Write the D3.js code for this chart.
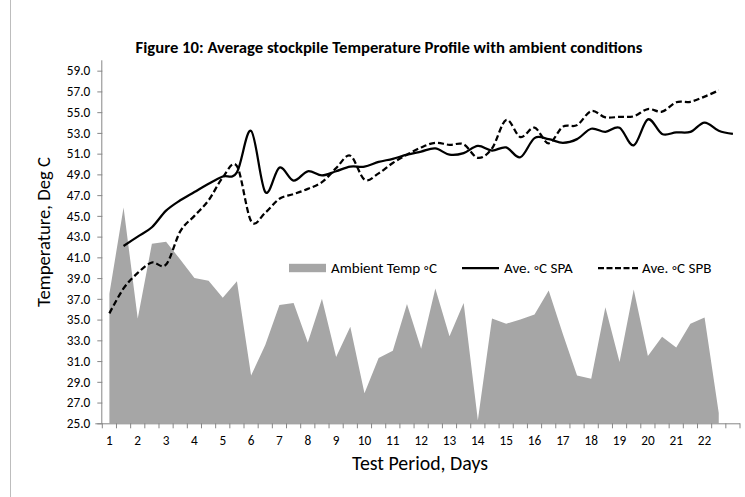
<!DOCTYPE html>
<html>
<head>
<meta charset="utf-8">
<script src="https://cdn.jsdelivr.net/npm/d3@7"></script>
<style>
  html, body { margin: 0; padding: 0; background: #fff; }
  svg { display: block; }
  text { font-family: Carlito, Calibri, Lato, "Open Sans", sans-serif; fill: #000; }
</style>
</head>
<body>
<svg id="chart" width="745" height="497"></svg>
<script>
// ---- data ----
const xLabels = ["1","","2","","3","","4","","5","","6","","7","","8","","9","","10","","11","","12","","13","","14","","15","","16","","17","","18","","19","","20","","21","","22","",""];
const ambientTemp = [37.5, 45.8, 35.1, 42.3, 42.5, 40.8, 39.0, 38.75, 37.1, 38.7, 29.6, 32.55, 36.4, 36.6, 32.8, 37.0, 31.4, 34.3, 27.9, 31.3, 32.0, 36.5, 32.2, 38.0, 33.4, 36.6, 25.3, 35.1, 34.6, 35.0, 35.5, 37.8, 33.6, 29.6, 29.3, 36.2, 30.9, 37.9, 31.5, 33.35, 32.3, 34.6, 35.2, 26.0];
const spa = [null, 42.1, 43.0, 43.9, 45.5, 46.5, 47.3, 48.1, 48.8, 49.2, 53.2, 47.3, 49.65, 48.4, 49.3, 48.9, 49.3, 49.75, 49.75, 50.2, 50.5, 50.9, 51.2, 51.5, 50.9, 51.05, 51.75, 51.3, 51.6, 50.65, 52.5, 52.4, 52.05, 52.4, 53.4, 53.1, 53.5, 51.8, 54.3, 52.9, 53.05, 53.1, 54.0, 53.2, 52.9];
const spb = [35.6, 38.0, 39.5, 40.5, 40.3, 43.5, 45.0, 46.5, 48.7, 49.8, 44.5, 45.3, 46.65, 47.1, 47.6, 48.25, 49.6, 50.8, 48.5, 49.1, 50.1, 50.9, 51.6, 52.05, 51.85, 51.9, 50.6, 51.5, 54.25, 52.6, 53.5, 52.0, 53.6, 53.75, 55.1, 54.5, 54.55, 54.6, 55.3, 55.05, 55.95, 56.0, 56.5, 57.1, null];
const yTicks = [25, 27, 29, 31, 33, 35, 37, 39, 41, 43, 45, 47, 49, 51, 53, 55, 57, 59];
const legendNames = ["Ambient Temp \u25E6C", "Ave. \u25E6C SPA", "Ave. \u25E6C SPB"];
const titleText = "Figure 10: Average stockpile Temperature Profile with ambient conditions";

// ---- layout ----
const svg = d3.select("#chart");
const plot = { left: 102.3, right: 740, top: 60.3, bottom: 423.3 };
const axisColor = "#868686";

const x = d3.scaleBand().domain(d3.range(xLabels.length)).range([plot.left, plot.right]).paddingInner(0).paddingOuter(0);
const cx = i => x(i) + x.bandwidth() / 2;
const y = d3.scaleLinear().domain([25, 60]).range([plot.bottom, plot.top]);

function fit(sel, target) {
  const node = sel.node();
  const fs = parseFloat(sel.attr("font-size"));
  const w = node.getComputedTextLength();
  if (w > 0) sel.attr("font-size", (fs * target / w).toFixed(2));
  return parseFloat(sel.attr("font-size"));
}

// chart border (left edge visible)
svg.append("line").attr("x1", 10.5).attr("x2", 10.5).attr("y1", 0).attr("y2", 497)
  .attr("stroke", "#bdbdbd").attr("stroke-width", 1);

// title
const title = svg.append("text").attr("x", 389).attr("y", 52.5).attr("text-anchor", "middle")
  .attr("font-weight", "bold").attr("font-size", 14).text(titleText);
fit(title, 507);

// ambient area
const area = d3.area()
  .x((d, i) => cx(i))
  .y0(y(25))
  .y1(d => y(d))
  .curve(d3.curveLinear);
svg.append("path").datum(ambientTemp).attr("d", area).attr("fill", "#a6a6a6");

// lines
const line = d3.line()
  .defined(d => d != null)
  .x((d, i) => cx(i))
  .y(d => y(d))
  .curve(d3.curveCardinal);
svg.append("path").datum(spa).attr("d", line).attr("fill", "none")
  .attr("stroke", "#000").attr("stroke-width", 2.25).attr("stroke-linejoin", "round");
svg.append("path").datum(spb).attr("d", line).attr("fill", "none")
  .attr("stroke", "#000").attr("stroke-width", 2.25).attr("stroke-dasharray", "6,3");

// y axis
const yAxis = d3.axisLeft(y).tickValues(yTicks).tickSize(5).tickPadding(7).tickFormat(d3.format(".1f"));
const gy = svg.append("g").attr("transform", `translate(${plot.left},0)`).call(yAxis);
gy.select(".domain").attr("stroke", axisColor).attr("d", `M-0.5,${plot.top}V${plot.bottom}`);
gy.selectAll(".tick line").attr("stroke", axisColor);
gy.selectAll(".tick text").attr("font-size", 13).attr("font-family", null).attr("fill", "#000");
const sample = gy.selectAll(".tick text").filter(d => d === 59);
const tickFs = fit(sample, 23.5);
gy.selectAll(".tick text").attr("font-size", tickFs);

// x axis
const xAxis = d3.axisBottom(x).tickSize(0).tickPadding(12).tickFormat(i => xLabels[i]);
const gx = svg.append("g").attr("transform", `translate(0,${plot.bottom})`).call(xAxis);
gx.select(".domain").attr("stroke", axisColor).attr("d", `M${plot.left - 7},0.5H${plot.right}`);
gx.selectAll(".tick text").attr("font-size", tickFs).attr("font-family", null).attr("fill", "#000");
// tick marks at category boundaries
const bounds = d3.range(xLabels.length + 1).map(i => i === xLabels.length ? plot.right : x(i));
gx.selectAll(".bound").data(bounds).enter().append("line").attr("class", "bound")
  .attr("x1", d => d).attr("x2", d => d).attr("y1", 0).attr("y2", 5).attr("stroke", axisColor);

// axis titles
const yt = svg.append("text").attr("transform", "translate(50,232) rotate(-90)")
  .attr("text-anchor", "middle").attr("font-size", 15).text("Temperature, Deg C");
fit(yt, 150);
const xt = svg.append("text").attr("x", 420).attr("y", 470).attr("text-anchor", "middle")
  .attr("font-size", 15).text("Test Period, Days");
fit(xt, 136);

// legend
const lg = svg.append("g");
const ly = 268;
lg.append("rect").attr("x", 289).attr("y", ly - 4.2).attr("width", 37).attr("height", 8.4).attr("fill", "#a6a6a6");
lg.append("line").attr("x1", 462).attr("x2", 499).attr("y1", ly).attr("y2", ly)
  .attr("stroke", "#000").attr("stroke-width", 2.25);
lg.append("line").attr("x1", 598).attr("x2", 638).attr("y1", ly).attr("y2", ly)
  .attr("stroke", "#000").attr("stroke-width", 2.25).attr("stroke-dasharray", "6,2.5");
const t1 = lg.append("text").attr("x", 331).attr("y", ly + 4.8).attr("font-size", 13).text(legendNames[0]);
const lfs = fit(t1, 106);
lg.append("text").attr("x", 504).attr("y", ly + 4.8).attr("font-size", lfs).text(legendNames[1]);
lg.append("text").attr("x", 642).attr("y", ly + 4.8).attr("font-size", lfs).text(legendNames[2]);
</script>
</body>
</html>
